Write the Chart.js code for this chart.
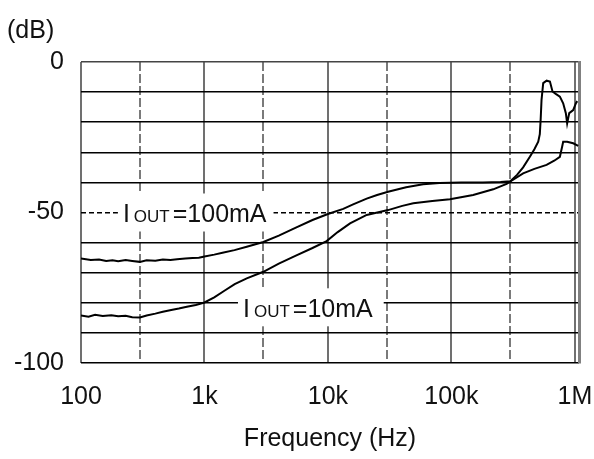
<!DOCTYPE html>
<html>
<head>
<meta charset="utf-8">
<script src="https://cdn.jsdelivr.net/npm/chart.js@4/dist/chart.umd.min.js"></script>
<style>
  html, body { margin: 0; padding: 0; background: #fff; }
  #wrap { width: 594px; height: 459px; position: relative; }
</style>
</head>
<body>
<div id="wrap"><canvas id="c"></canvas></div>
<script>
// ---- data ----
const freq100mA = [100, 120, 140, 160, 180, 200, 230, 260, 300, 340, 400, 460, 530, 600, 700, 800, 900, 1000, 1200, 1400, 1750, 2200, 3000, 4000, 5500, 7500, 10000, 13300, 16000, 20600, 25000, 30700, 43000, 59000, 80000, 120000, 180000, 250000, 300000, 340000, 381000, 432000, 470000, 505000, 520000, 528000, 537000, 554000, 590000, 628000, 659000, 700000, 756000, 804000, 845000, 866000, 900000, 969000, 1020000, 1045000];
const db100mA = [-65.3, -65.8, -65.6, -66.1, -65.9, -66.2, -65.8, -66.1, -66.4, -65.9, -66.0, -65.6, -65.8, -65.5, -65.3, -65.1, -65.0, -64.6, -64.0, -63.4, -62.5, -61.4, -59.8, -57.7, -55.0, -52.5, -50.5, -48.8, -47.3, -45.4, -44.2, -43.1, -41.6, -40.6, -40.2, -40.0, -40.0, -39.9, -39.6, -37.5, -35.0, -31.5, -29.0, -26.5, -24.0, -19.3, -12.6, -7.0, -6.2, -6.5, -9.8, -10.6, -11.5, -13.7, -17.0, -20.4, -17.0, -16.0, -13.7, -13.0];

const freq10mA = [100, 115, 130, 150, 176, 200, 230, 260, 300, 340, 400, 460, 538, 620, 720, 850, 1000, 1200, 1450, 1757, 2200, 3000, 4000, 5500, 7500, 9760, 12000, 15100, 20600, 30700, 40000, 49100, 70000, 97300, 150000, 218000, 280000, 300000, 381000, 470000, 590000, 680000, 756000, 790000, 804000, 866000, 969000, 1064000];
const db10mA = [-84.2, -84.6, -84.0, -84.4, -84.1, -84.5, -84.3, -84.8, -84.9, -84.2, -83.6, -83.0, -82.4, -81.9, -81.3, -80.7, -79.9, -78.2, -76.0, -73.8, -71.9, -69.7, -67.0, -64.3, -61.8, -59.5, -56.5, -53.6, -50.8, -49.2, -47.8, -46.9, -46.2, -45.6, -44.2, -42.3, -40.5, -39.7, -37.0, -35.5, -34.2, -32.8, -31.5, -28.0, -26.5, -26.5, -27.0, -27.9];

const xMajorTicks = [100, 1000, 10000, 100000, 1000000];
const xMajorLabels = ['100', '1k', '10k', '100k', '1M'];
const xMinorTicks = [300, 3000, 30000, 300000];
const yGridTicks = [0, -10, -20, -30, -40, -50, -60, -70, -80, -90, -100];
const yLabelTicks = [0, -50, -100];
const yDashedTicks = [-50];
const seriesNames = ['IOUT=100mA', 'IOUT=10mA'];

const FONT = "'Liberation Sans', Arial, sans-serif";
const X_MIN = 100, X_MAX = 1080000;

function toPoints(xs, ys) { return xs.map((x, i) => ({ x: x, y: ys[i] })); }

// curve labels (text with white background, on grid lines)
const curveLabelDefs = [
  { pre: 'I', sub: 'OUT', post: '=100mA', atFreq: 199, onDb: -50 },
  { pre: 'I', sub: 'OUT', post: '=10mA', atFreq: 1868, onDb: -80 }
];

const labelPlugin = {
  id: 'labels',
  afterDraw(chart) {
    const ctx = chart.ctx;
    const xs = chart.scales.x, ys = chart.scales.y;
    ctx.save();
    curveLabelDefs.forEach((d, i) => {
      const big = '25px ' + FONT, small = '17px ' + FONT;
      ctx.font = big;
      const wPre = ctx.measureText(d.pre).width;
      const wPost = ctx.measureText(d.post).width;
      ctx.font = small;
      const wSub = ctx.measureText(d.sub).width;
      const gap1 = 4, gap2 = 3;
      const total = wPre + gap1 + wSub + gap2 + wPost;
      const left = xs.getPixelForValue(d.atFreq);
      const yLine = ys.getPixelForValue(d.onDb);
      const padL = 5, padR = i === 0 ? 7 : 11;
      const yc = yLine + (i === 0 ? 0 : 4.5);
      ctx.fillStyle = '#fff';
      ctx.fillRect(left, yc - 19, padL + total + padR, 38);
      ctx.fillStyle = '#111';
      ctx.textBaseline = 'alphabetic';
      ctx.textAlign = 'left';
      const base = yc + 9.5;
      let x = left + padL;
      ctx.font = big; ctx.fillText(d.pre, x, base); x += wPre + gap1;
      ctx.font = small; ctx.fillText(d.sub, x, base); x += wSub + gap2;
      ctx.font = big; ctx.fillText(d.post, x, base);
    });
    // y unit
    ctx.font = '25px ' + FONT;
    ctx.fillStyle = '#111';
    ctx.textBaseline = 'alphabetic';
    ctx.textAlign = 'left';
    ctx.fillText('(dB)', 7, 38);
    ctx.restore();
  }
};

new Chart(document.getElementById('c'), {
  type: 'line',
  data: {
    datasets: [
      { label: seriesNames[0], data: toPoints(freq100mA, db100mA), borderColor: '#000', borderWidth: 2, pointRadius: 0, tension: 0, fill: false },
      { label: seriesNames[1], data: toPoints(freq10mA, db10mA), borderColor: '#000', borderWidth: 2, pointRadius: 0, tension: 0, fill: false }
    ]
  },
  options: {
    responsive: true,
    maintainAspectRatio: false,
    animation: false,
    devicePixelRatio: 1,
    layout: { padding: { top: 62, right: 15, bottom: 0, left: 0 } },
    plugins: { legend: { display: false }, tooltip: { enabled: false }, title: { display: false } },
    scales: {
      x: {
        type: 'logarithmic', position: 'bottom', min: X_MIN, max: X_MAX,
        afterBuildTicks(axis) { axis.ticks = xMajorTicks.map(v => ({ value: v })); },
        afterFit(axis) { axis.height = 96; axis.paddingLeft = 0; axis.paddingRight = 0; },
        ticks: {
          autoSkip: false, maxRotation: 0, minRotation: 0, padding: 19,
          color: '#111', font: { family: FONT, size: 25 },
          callback: (v) => { const i = xMajorTicks.indexOf(v); return i >= 0 ? xMajorLabels[i] : ''; }
        },
        grid: { color: '#707070', lineWidth: 2, drawTicks: false },
        border: { display: false },
        title: { display: true, text: 'Frequency (Hz)', color: '#111', font: { family: FONT, size: 25 }, padding: { top: 0, bottom: 5 } }
      },
      x2: {
        type: 'logarithmic', position: 'top', min: X_MIN, max: X_MAX,
        afterBuildTicks(axis) { axis.ticks = xMinorTicks.map(v => ({ value: v })); },
        afterFit(axis) { axis.height = 0; axis.paddingLeft = 0; axis.paddingRight = 0; },
        ticks: { display: false },
        grid: { color: '#7a7a7a', lineWidth: 2, drawTicks: false },
        border: { display: false, dash: [9, 3] }
      },
      y: {
        type: 'linear', position: 'left', min: -100, max: 0,
        afterBuildTicks(axis) { axis.ticks = yGridTicks.map(v => ({ value: v })); },
        afterFit(axis) { axis.width = 81; },
        ticks: {
          autoSkip: false, padding: 17, color: '#111', font: { family: FONT, size: 25 },
          callback: (v) => yLabelTicks.includes(v) ? String(v) : ''
        },
        grid: {
          drawTicks: false, lineWidth: 1.5,
          color: (c) => {
            if (c.tick && yDashedTicks.includes(c.tick.value)) return 'rgba(0,0,0,0)';
            if (c.tick && c.tick.value === 0) return '#444';
            return '#000';
          }
        },
        border: { display: false }
      },
      y2: {
        type: 'linear', position: 'right', min: -100, max: 0,
        afterBuildTicks(axis) { axis.ticks = yDashedTicks.map(v => ({ value: v })); },
        afterFit(axis) { axis.width = 0; },
        ticks: { display: false },
        grid: { color: '#000', lineWidth: 1.5, drawTicks: false },
        border: { display: true, color: '#808080', width: 3, dash: [5, 3] }
      }
    }
  },
  plugins: [labelPlugin]
});
</script>
</body>
</html>
